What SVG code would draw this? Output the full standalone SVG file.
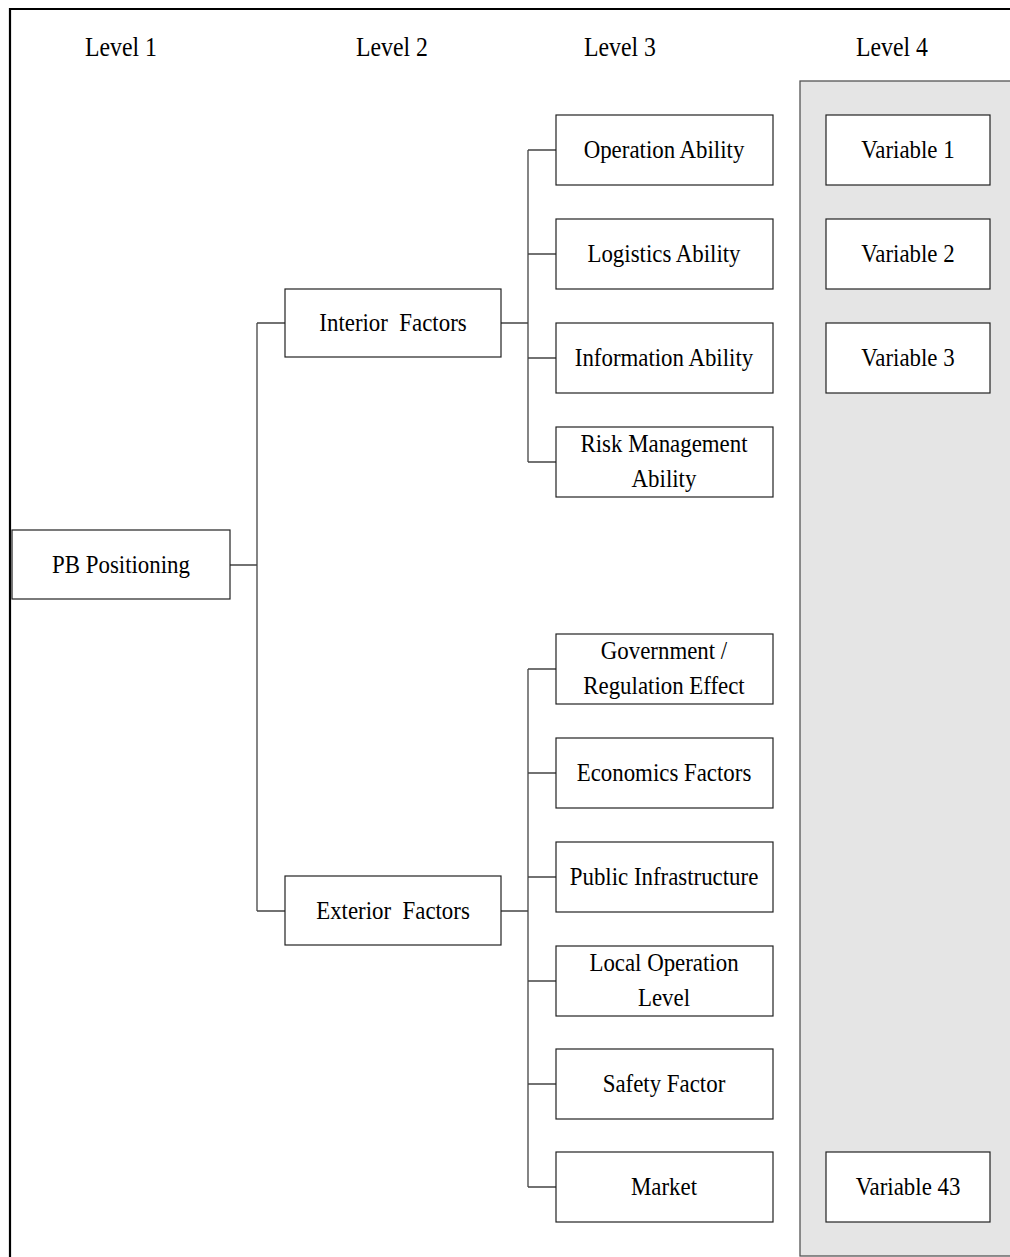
<svg xmlns="http://www.w3.org/2000/svg" width="1010" height="1257" viewBox="0 0 1010 1257">
<style>
.box{fill:#fff;stroke:#222;stroke-width:1.2}
.t{font-family:"Liberation Serif","Times New Roman",serif;font-size:26px;fill:#000;text-anchor:middle;white-space:pre}
.lv{font-size:27px}
.c{fill:none;stroke:#444;stroke-width:1.3}
</style>
<rect width="1010" height="1257" fill="#fff"/>
<path d="M1010,9 H10 V1257" fill="none" stroke="#000" stroke-width="2.2"/>
<rect x="800" y="81" width="220" height="1175" fill="#e5e5e5" stroke="#555" stroke-width="1.3"/>
<g id="levels">
<text class="t lv" transform="translate(121,56) scale(0.88,1)">Level 1</text>
<text class="t lv" transform="translate(392,56) scale(0.88,1)">Level 2</text>
<text class="t lv" transform="translate(620,56) scale(0.88,1)">Level 3</text>
<text class="t lv" transform="translate(892,56) scale(0.88,1)">Level 4</text>
</g>
<g id="connectors">
<path class="c" d="M230,565 H257 M257,323 V911 M257,323 H285 M257,911 H285"/>
<path class="c" d="M501,323 H528 M528,150 V462 M528,150 H556 M528,254 H556 M528,358 H556 M528,462 H556"/>
<path class="c" d="M501,911 H528 M528,669 V1187 M528,669 H556 M528,773 H556 M528,877 H556 M528,981 H556 M528,1084 H556 M528,1187 H556"/>
</g>
<g id="pb"><rect class="box" x="12" y="530" width="218" height="69"/><text class="t" transform="translate(121,573) scale(0.88,1)">PB Positioning</text></g>
<g id="interior"><rect class="box" x="285" y="289" width="216" height="68"/><text class="t" transform="translate(393,331) scale(0.88,1)">Interior  Factors</text></g>
<g id="exterior"><rect class="box" x="285" y="876" width="216" height="69"/><text class="t" transform="translate(393,919) scale(0.88,1)">Exterior  Factors</text></g>
<g id="operation"><rect class="box" x="556" y="115" width="217" height="70"/><text class="t" transform="translate(664,158) scale(0.88,1)">Operation Ability</text></g>
<g id="logistics"><rect class="box" x="556" y="219" width="217" height="70"/><text class="t" transform="translate(664,262) scale(0.88,1)">Logistics Ability</text></g>
<g id="information"><rect class="box" x="556" y="323" width="217" height="70"/><text class="t" transform="translate(664,366) scale(0.88,1)">Information Ability</text></g>
<g id="risk"><rect class="box" x="556" y="427" width="217" height="70"/><text class="t" transform="translate(664,452) scale(0.88,1)">Risk Management</text><text class="t" transform="translate(664,487) scale(0.88,1)">Ability</text></g>
<g id="government"><rect class="box" x="556" y="634" width="217" height="70"/><text class="t" transform="translate(664,659) scale(0.88,1)">Government /</text><text class="t" transform="translate(664,694) scale(0.88,1)">Regulation Effect</text></g>
<g id="economics"><rect class="box" x="556" y="738" width="217" height="70"/><text class="t" transform="translate(664,781) scale(0.88,1)">Economics Factors</text></g>
<g id="public"><rect class="box" x="556" y="842" width="217" height="70"/><text class="t" transform="translate(664,885) scale(0.88,1)">Public Infrastructure</text></g>
<g id="local"><rect class="box" x="556" y="946" width="217" height="70"/><text class="t" transform="translate(664,971) scale(0.88,1)">Local Operation</text><text class="t" transform="translate(664,1006) scale(0.88,1)">Level</text></g>
<g id="safety"><rect class="box" x="556" y="1049" width="217" height="70"/><text class="t" transform="translate(664,1092) scale(0.88,1)">Safety Factor</text></g>
<g id="market"><rect class="box" x="556" y="1152" width="217" height="70"/><text class="t" transform="translate(664,1195) scale(0.88,1)">Market</text></g>
<g id="var1"><rect class="box" x="826" y="115" width="164" height="70"/><text class="t" transform="translate(908,158) scale(0.88,1)">Variable 1</text></g>
<g id="var2"><rect class="box" x="826" y="219" width="164" height="70"/><text class="t" transform="translate(908,262) scale(0.88,1)">Variable 2</text></g>
<g id="var3"><rect class="box" x="826" y="323" width="164" height="70"/><text class="t" transform="translate(908,366) scale(0.88,1)">Variable 3</text></g>
<g id="var43"><rect class="box" x="826" y="1152" width="164" height="70"/><text class="t" transform="translate(908,1195) scale(0.88,1)">Variable 43</text></g>
</svg>
